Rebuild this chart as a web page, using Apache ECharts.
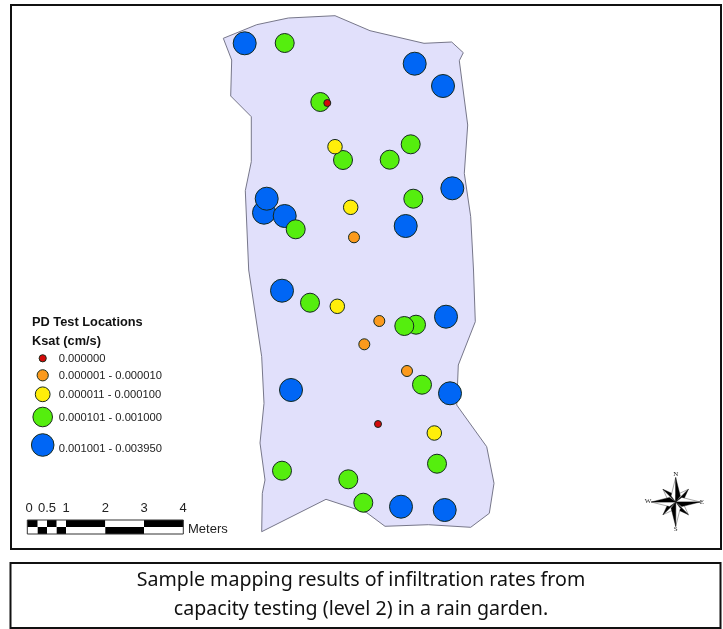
<!DOCTYPE html>
<html><head><meta charset="utf-8">
<style>html,body{margin:0;padding:0;background:#fff}#c{width:723px;height:629px;filter:blur(0.35px)}</style>
<script src="https://cdn.jsdelivr.net/npm/echarts@6/dist/echarts.min.js"></script></head>
<body><div id="c"></div>
<script>
// Map readings, in map units (one unit = one picture pixel; y runs downward)
const gardenOutline = [[223.3,38.3],[256.7,24.7],[288.3,18],[335,15.7],[370,30.7],[424,43.3],[451.7,42],[463.3,52.7],[459.3,60.7],[467.7,125],[464.3,173.3],[470.7,216.7],[473.5,270],[475.3,321.7],[458.3,365],[456.7,405],[486.7,446.7],[494,483.3],[489.3,513.3],[470.7,527.3],[428.3,524.7],[385,526.3],[366.7,512.7],[326,499.3],[261.7,531.7],[262.3,493.3],[265,480],[260,443],[264,403.3],[261.7,356.7],[248.7,270],[245.3,190.7],[251.3,161.7],[251.3,116.7],[230.7,96],[231.7,60]];
const classBlue = [[244.7,43.3],[414.7,63.7],[443,86],[452.3,188.3],[405.7,226],[264,212.7],[266.7,198.7],[284.7,216],[282,290.7],[446,316.7],[291,390],[450,393.3],[401,506.7],[444.7,510]];
const classGreen = [[284.7,43],[320.3,102],[343,160],[389.7,159.7],[410.7,144.3],[413.3,198.7],[295.7,229.3],[310,302.7],[416,324.7],[404.3,326],[422,384.7],[437,463.7],[282,470.7],[348.3,479.3],[363.3,502.7]];
const classYellow = [[335,146.7],[350.7,207.3],[337.3,306.3],[434.3,433]];
const classOrange = [[354,237.3],[379.3,321],[364.3,344.3],[407,371]];
const classRed = [[327.3,103],[378,424]];
const classLabels = ['0.000000','0.000001 - 0.000010','0.000011 - 0.000100','0.000101 - 0.001000','0.001001 - 0.003950'];
const scaleTicks = ['0','0.5','1','2','3','4'];
const caption = ['Sample mapping results of infiltration rates from','capacity testing (level 2) in a rain garden.'];

const COL = {blue:'#0066f5',green:'#55ee0e',yellow:'#ffee0a',orange:'#fb9a1c',red:'#d40a0a'};
const sans = 'Liberation Sans';
const G = [];
const txt=(x,y,text,size,opt={})=>G.push({type:'text',z:opt.z||5,style:Object.assign({x,y,text,fontSize:size,fontFamily:sans,fill:'#222',verticalAlign:'middle'},opt.style||{})});
G.push({type:'rect',z:0,shape:{x:11,y:5,width:710,height:544},style:{fill:'#fff',stroke:'#111',lineWidth:2}});
G.push({type:'rect',z:0,shape:{x:10.5,y:563,width:710,height:65},style:{fill:'#fff',stroke:'#111',lineWidth:2}});
caption.forEach((t,i)=>txt(361,580+i*29,t,19.6,{style:{fontFamily:'Noto Sans',fill:'#111',align:'center'}}));
txt(32,322,'PD Test Locations',12.8,{style:{fontWeight:'bold',fill:'#111'}});
txt(32,341,'Ksat (cm/s)',12.8,{style:{fontWeight:'bold',fill:'#111'}});
const lg=[[358.3,3.6,COL.red,358.5],[375.3,5.6,COL.orange,375.5],[394.3,7.4,COL.yellow,394.5],[417,9.8,COL.green,418],[445,11.3,COL.blue,448.5]];
lg.forEach((r,i)=>{
 G.push({type:'circle',z:5,shape:{cx:42.7,cy:r[0],r:r[1]},style:{fill:r[2],stroke:'#1c2c1c',lineWidth:1}});
 txt(58.7,r[3],classLabels[i],11.2);
});
const bx=[27.3,37.7,47,56.7,66,105.3,144,183.3];
for(let i=0;i<7;i++){
 G.push({type:'rect',z:5,shape:{x:bx[i],y:520,width:bx[i+1]-bx[i],height:7},style:{fill:i%2?'#fff':'#000'}});
 G.push({type:'rect',z:5,shape:{x:bx[i],y:527,width:bx[i+1]-bx[i],height:7},style:{fill:i%2?'#000':'#fff'}});
}
G.push({type:'rect',z:6,shape:{x:27.3,y:520,width:156,height:14},style:{fill:'none',stroke:'#333',lineWidth:1}});
const tx=[29,47,66,105.3,144,183];
scaleTicks.forEach((t,i)=>txt(tx[i],508.5,t,13,{style:{align:'center'}}));
txt(188,529,'Meters',13);
const cx=675.7, cy=502;
function star(a,R,w,z){
 const c=Math.cos(a),s=Math.sin(a);
 const p=(u,v)=>[cx+u*c-v*s,cy+u*s+v*c];
 G.push({type:'polygon',z,shape:{points:[p(0,0),p(R,0),p(R*0.25,-w)]},style:{fill:'#fff',stroke:'#222',lineWidth:0.4}});
 G.push({type:'polygon',z,shape:{points:[p(0,0),p(R,0),p(R*0.25,w)]},style:{fill:'#000',stroke:'#000',lineWidth:0.4}});
}
[Math.PI/4,3*Math.PI/4,5*Math.PI/4,7*Math.PI/4].forEach(a=>star(a,18,5,5));
[0,Math.PI/2,Math.PI,3*Math.PI/2].forEach(a=>star(a,24.5,4.6,6));
[['N',cx,474],['S',cx,529.5],['W',648,501.5],['E',702,502]].forEach(d=>
 txt(d[1],d[2],d[0],7,{z:6,style:{fontFamily:'Liberation Serif',align:'center'}}));

const points=(name,data,size,color)=>({type:'scatter',name,data,symbolSize:size,z:4,
 itemStyle:{color,borderColor:'#15291f',borderWidth:1,opacity:1},emphasis:{disabled:true},silent:true,animation:false});

const chart=echarts.init(document.getElementById('c'),null,{renderer:'canvas'});
chart.setOption({
 animation:false,backgroundColor:'#fff',
 grid:{left:0,top:0,width:723,height:629},
 xAxis:{type:'value',min:0,max:723,show:false},
 yAxis:{type:'value',min:0,max:629,inverse:true,show:false},
 graphic:{elements:G},
 tooltip:{show:false},
 series:[
  {type:'custom',name:'Rain garden',z:2,silent:true,data:[0],
   renderItem:(p,api)=>({type:'polygon',shape:{points:gardenOutline.map(q=>api.coord(q))},
    style:{fill:'#e1e0fb',stroke:'#77778a',lineWidth:1}})},
  points('0.001001 - 0.003950',classBlue,23,COL.blue),
  points('0.000101 - 0.001000',classGreen,19,COL.green),
  points('0.000011 - 0.000100',classYellow,14.5,COL.yellow),
  points('0.000001 - 0.000010',classOrange,11,COL.orange),
  points('0.000000',classRed,7,COL.red)
 ]
});
</script></body></html>
